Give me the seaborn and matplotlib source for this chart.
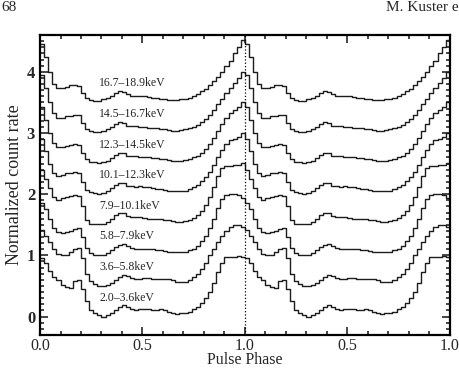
import pandas as pd
import seaborn as sns
import matplotlib.pyplot as plt
from matplotlib.ticker import MultipleLocator, FixedLocator, FixedFormatter

# energy bands, from bottom to top, each shifted up by 0.5
bands = ['2.0\u20133.6keV', '3.6\u20135.8keV', '5.8\u20137.9keV', '7.9\u201310.1keV',
         '10.1\u201312.3keV', '12.3\u201314.5keV', '14.5\u201316.7keV', '16.7\u201318.9keV']
offsets = [0.0, 0.5, 1.0, 1.5, 2.0, 2.5, 3.0, 3.5]
bin_width = 0.02  # 50 phase bins per pulse

# normalized pulse profiles (one cycle)
prof_2_0 = [0.95, 0.88, 0.75, 0.65, 0.60, 0.52, 0.48, 0.47, 0.58, 0.60,
            0.45, 0.25, 0.10, 0.05, 0.03, 0.00, 0.02, 0.05, 0.10, 0.15,
            0.18, 0.16, 0.12, 0.10, 0.12, 0.13, 0.12, 0.10, 0.10, 0.12,
            0.10, 0.08, 0.05, 0.04, 0.05, 0.06, 0.08, 0.12, 0.16, 0.22,
            0.30, 0.40, 0.55, 0.72, 0.88, 0.97, 0.98, 0.98, 0.99, 0.97]
prof_3_6 = [0.92, 0.82, 0.72, 0.60, 0.52, 0.50, 0.50, 0.55, 0.60, 0.62,
            0.45, 0.20, 0.08, 0.03, 0.00, 0.00, 0.02, 0.05, 0.10, 0.15,
            0.18, 0.16, 0.13, 0.12, 0.12, 0.13, 0.13, 0.12, 0.12, 0.12,
            0.12, 0.11, 0.09, 0.07, 0.07, 0.07, 0.09, 0.14, 0.20, 0.28,
            0.38, 0.50, 0.60, 0.72, 0.82, 0.90, 0.96, 1.00, 1.00, 0.97]
prof_5_8 = [0.85, 0.75, 0.60, 0.45, 0.38, 0.37, 0.38, 0.40, 0.43, 0.44,
            0.30, 0.12, 0.04, 0.01, 0.00, 0.01, 0.04, 0.08, 0.13, 0.17,
            0.18, 0.15, 0.12, 0.11, 0.11, 0.10, 0.10, 0.10, 0.09, 0.08,
            0.07, 0.06, 0.05, 0.05, 0.05, 0.06, 0.08, 0.11, 0.16, 0.23,
            0.32, 0.44, 0.60, 0.78, 0.92, 0.98, 1.00, 1.00, 0.99, 0.93]
prof_7_9 = [0.90, 0.75, 0.60, 0.45, 0.40, 0.44, 0.46, 0.47, 0.48, 0.47,
            0.30, 0.08, 0.02, 0.02, 0.01, 0.02, 0.04, 0.10, 0.16, 0.20,
            0.19, 0.15, 0.13, 0.12, 0.12, 0.11, 0.10, 0.10, 0.09, 0.09,
            0.08, 0.07, 0.06, 0.05, 0.05, 0.06, 0.08, 0.11, 0.16, 0.23,
            0.32, 0.45, 0.62, 0.80, 0.93, 0.96, 0.96, 0.97, 0.98, 1.01]
prof_10_1 = [0.90, 0.70, 0.50, 0.35, 0.30, 0.32, 0.34, 0.35, 0.36, 0.35,
             0.20, 0.07, 0.03, 0.02, 0.01, 0.02, 0.05, 0.10, 0.15, 0.19,
             0.18, 0.14, 0.13, 0.12, 0.13, 0.12, 0.11, 0.10, 0.09, 0.08,
             0.07, 0.06, 0.05, 0.05, 0.05, 0.06, 0.08, 0.11, 0.15, 0.21,
             0.28, 0.37, 0.48, 0.60, 0.72, 0.82, 0.88, 0.90, 0.93, 1.00]
prof_12_3 = [0.92, 0.72, 0.50, 0.33, 0.27, 0.27, 0.28, 0.30, 0.32, 0.31,
             0.18, 0.07, 0.03, 0.02, 0.01, 0.02, 0.05, 0.09, 0.14, 0.18,
             0.17, 0.13, 0.12, 0.12, 0.11, 0.11, 0.10, 0.09, 0.09, 0.08,
             0.07, 0.06, 0.05, 0.05, 0.05, 0.06, 0.07, 0.10, 0.13, 0.18,
             0.24, 0.32, 0.42, 0.53, 0.64, 0.74, 0.82, 0.88, 0.92, 1.00]
prof_14_5 = [0.95, 0.74, 0.50, 0.32, 0.25, 0.25, 0.27, 0.28, 0.30, 0.29,
             0.16, 0.07, 0.03, 0.02, 0.02, 0.03, 0.06, 0.10, 0.14, 0.18,
             0.16, 0.12, 0.11, 0.11, 0.10, 0.10, 0.09, 0.09, 0.08, 0.07,
             0.06, 0.05, 0.04, 0.04, 0.05, 0.06, 0.08, 0.10, 0.13, 0.18,
             0.23, 0.30, 0.38, 0.47, 0.56, 0.65, 0.74, 0.82, 0.90, 1.00]
prof_16_7 = [0.95, 0.75, 0.50, 0.30, 0.24, 0.24, 0.26, 0.28, 0.29, 0.27,
             0.15, 0.08, 0.04, 0.03, 0.03, 0.05, 0.08, 0.11, 0.15, 0.18,
             0.17, 0.13, 0.11, 0.11, 0.10, 0.10, 0.09, 0.08, 0.07, 0.06,
             0.05, 0.04, 0.04, 0.04, 0.05, 0.06, 0.08, 0.10, 0.14, 0.18,
             0.22, 0.28, 0.35, 0.42, 0.50, 0.59, 0.68, 0.80, 0.90, 1.02]
profiles = [prof_2_0, prof_3_6, prof_5_8, prof_7_9,
            prof_10_1, prof_12_3, prof_14_5, prof_16_7]

label_x = 0.29
label_dy = 0.31

# build long table: two pulse cycles, bin edges with steps-post
rows = []
for band, off, prof in zip(bands, offsets, profiles):
    vals = list(prof) * 2
    vals.append(vals[-1])
    for i, v in enumerate(vals):
        rows.append({'band': band, 'phase': i * bin_width, 'rate': v + off})
df = pd.DataFrame(rows)

sns.set_style('ticks')
plt.rcParams['font.family'] = ['Liberation Serif', 'DejaVu Serif']

fig = plt.figure(figsize=(4.6, 3.7), dpi=100)
ax = fig.add_axes([0.087, 0.095, 0.891, 0.81])

sns.lineplot(data=df, x='phase', y='rate', units='band', estimator=None,
             color='#1c1c1c', lw=1.0, drawstyle='steps-post', legend=False, ax=ax)
ax.axvline(1.0, ls=':', color='black', lw=0.9)

for band, off in zip(bands, offsets):
    ax.text(label_x, off + label_dy, band, fontsize=8.5, va='center', ha='left')

ax.set_xlim(0, 2)
ax.set_ylim(-0.3, 4.6)
ax.xaxis.set_major_locator(FixedLocator([0, 0.5, 1.0, 1.5, 2.0]))
ax.xaxis.set_major_formatter(FixedFormatter(['0.0', '0.5', '1.0', '0.5', '1.0']))
ax.xaxis.set_minor_locator(MultipleLocator(0.1))
ax.yaxis.set_major_locator(MultipleLocator(1))
ax.yaxis.set_minor_locator(MultipleLocator(0.1))
ax.tick_params(which='both', direction='in', top=True, right=True, width=1.2)
ax.tick_params(which='major', length=6, labelsize=12)
ax.tick_params(axis='x', which='major', labelsize=11.5, pad=2)
ax.tick_params(which='minor', length=3)
for lab in ax.get_yticklabels():
    lab.set_fontweight('bold')
for sp in ax.spines.values():
    sp.set_linewidth(1.6)
    sp.set_color('black')

ax.set_xlabel('Pulse Phase', fontsize=11.5, labelpad=-1)
ax.set_ylabel('Normalized count rate', fontsize=13, labelpad=3)

# page header of the scanned figure
fig.text(0.002, 0.998, '68', fontsize=11, va='top', ha='left')
fig.text(0.998, 0.998, 'M. Kuster e', fontsize=11, va='top', ha='right')

fig.savefig('out.png', dpi=100)
